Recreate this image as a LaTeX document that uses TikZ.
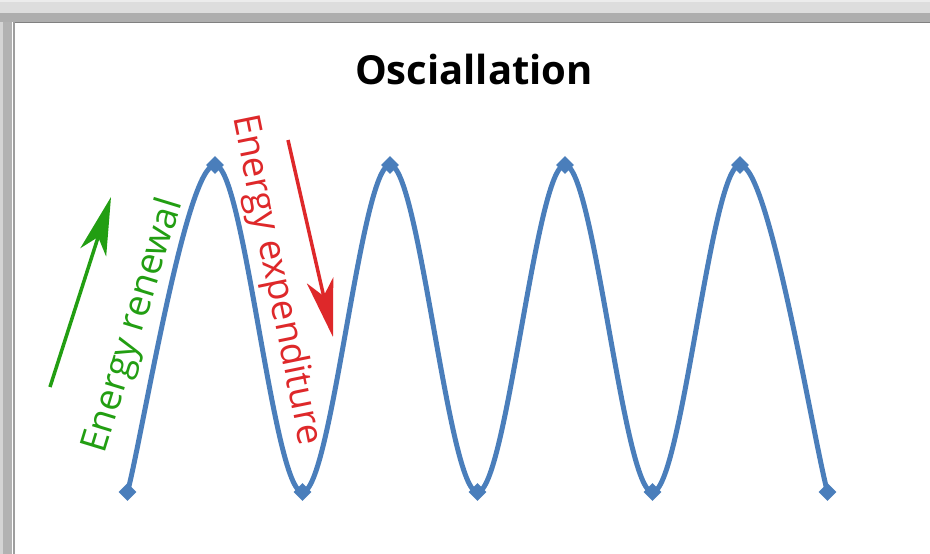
\documentclass[tikz,border=0pt]{standalone}
\usepackage{fontspec}
\setmainfont{Open Sans}
\usetikzlibrary{arrows.meta,shapes.geometric}
\definecolor{wavecol}{RGB}{74,126,187}
\definecolor{renewgreen}{RGB}{34,158,18}
\definecolor{spendred}{RGB}{222,40,42}
\definecolor{bandtop}{RGB}{236,236,236}
\definecolor{bandmid}{RGB}{221,221,221}
\definecolor{banddark}{RGB}{174,174,174}
\definecolor{bandside}{RGB}{178,178,178}
\definecolor{bandedge}{RGB}{212,212,212}
\definecolor{rulegray}{RGB}{128,128,128}

\begin{document}
\begin{tikzpicture}[
  x=1pt, y=-1pt,
  wave/.style={draw=wavecol, line width=5pt, line join=round},
  dot/.style={diamond, aspect=1, fill=wavecol, inner sep=0pt, minimum size=18pt},
  renew/.style={-{Stealth[length=58pt, width=27pt, inset=16pt]}, draw=renewgreen, line width=3.5pt},
  spend/.style={-{Stealth[length=58pt, width=27pt, inset=16pt]}, draw=spendred, line width=3.5pt},
  lbl/.style={font=\fontsize{37}{44}\selectfont, inner sep=0pt},
  ttl/.style={font=\fontsize{40}{48}\selectfont\bfseries},
]
\useasboundingbox (0,0) rectangle (930,554);

% ============================================================
% WINDOW FRAME (screenshot border)
% ============================================================
\fill[white] (0,0) rectangle (930,554);
\fill[bandmid]  (0,0) rectangle (930,13);
\fill[bandtop]  (0,0) rectangle (930,2);
\fill[banddark] (0,13) rectangle (930,22);
\fill[bandside] (0,22) rectangle (12,554);
\fill[bandedge] (0,22) rectangle (3,554);
\draw[rulegray, line width=1.5pt] (13,22.5) -- (930,22.5);
\draw[black!38, line width=1.5pt] (14,22) -- (14,554);

% ============================================================
% TITLE
% ============================================================
\node[ttl] (title) at (474,69) {Osciallation};

% ============================================================
% WAVE: troughs and peaks, smoothed line through them
% ============================================================
\foreach \i/\y in {0/492,1/165,2/492,3/165,4/492,5/165,6/492,7/165,8/492}
  \coordinate (p\i) at ({127.5+87.5*\i},\y);

\draw[wave] (p0) .. controls +(14.6,-54.5) and +(-29,0) .. (p1)
  \foreach \i in {2,...,7} { .. controls +(29,0) and +(-29,0) .. (p\i) }
  .. controls +(29,0) and +(-14.6,-54.5) .. (p8);

\foreach \i in {0,...,8}
  \node[dot] (m\i) at (p\i) {};

% ============================================================
% ARROWS AND LABELS
% ============================================================
\coordinate (gs) at (50,387);
\coordinate (ge) at (111,197);
\draw[renew] (gs) -- (ge);
\node[lbl, text=renewgreen, rotate=73] (renewal) at (134,326) {Energy renewal};

\coordinate (rs) at (288,140);
\coordinate (re) at (333,337);
\draw[spend] (rs) -- (re);
\node[lbl, text=spendred, rotate=-78.5] (expend) at (276,280) {Energy expenditure};

\end{tikzpicture}
\end{document}
